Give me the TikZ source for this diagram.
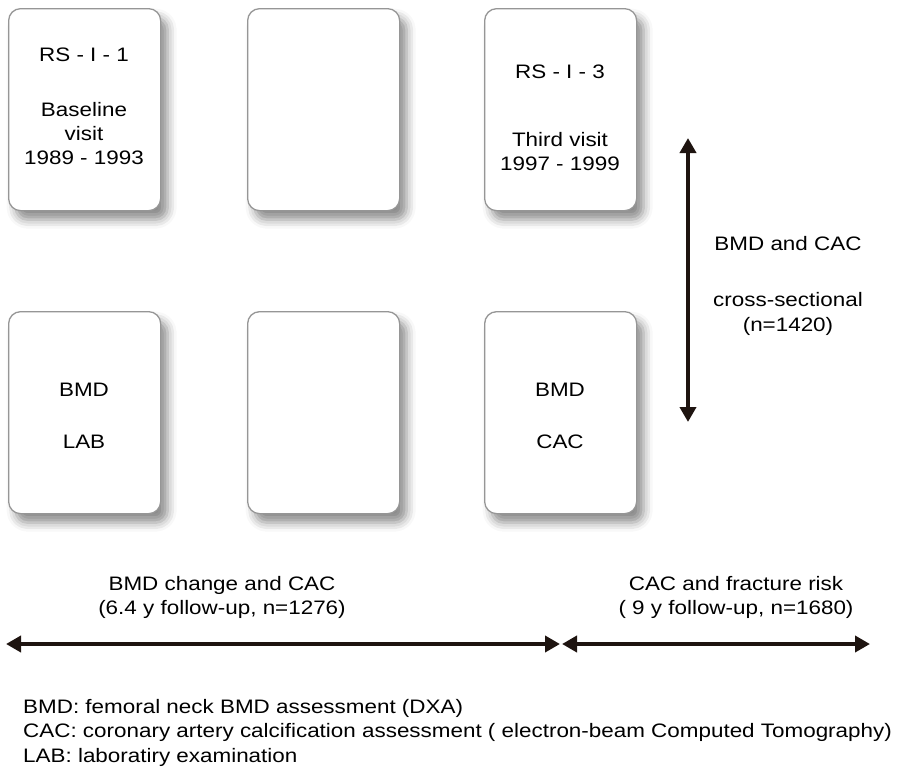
\documentclass[tikz,border=0pt]{standalone}
\usepackage{fontspec}
\setmainfont{Liberation Sans}[FakeStretch=1.15]
\usetikzlibrary{arrows.meta,shadows.blur}
\definecolor{arrowc}{RGB}{30,20,16}
\definecolor{boxedge}{RGB}{150,150,150}
\begin{document}
\begin{tikzpicture}[x=1pt,y=-1pt,
  visitbox/.style={draw=boxedge,line width=1.3pt,fill=white,rounded corners=12pt,
    minimum width=152pt,minimum height=202pt,anchor=north west,inner sep=0pt,
    blur shadow={shadow xshift=7pt,shadow yshift=-9pt,shadow blur radius=9pt,shadow opacity=45}},
  txt/.style={anchor=base,inner sep=0pt,font=\fontsize{19.5}{24}\selectfont},
  ltxt/.style={anchor=base west,inner sep=0pt,font=\fontsize{19.5}{24}\selectfont},
  bigarrow/.style={draw=arrowc,line width=4pt,{Triangle[length=15pt,width=16pt]}-{Triangle[length=15pt,width=16pt]}}]
\useasboundingbox (0,0) rectangle (903,774);
% boxes
\node[visitbox] (b1) at (8,8) {};
\node[visitbox] (b2) at (247,8) {};
\node[visitbox] (b3) at (484,8) {};
\node[visitbox] (b4) at (8,311) {};
\node[visitbox] (b5) at (247,311) {};
\node[visitbox] (b6) at (484,311) {};
% box texts
\node[txt] (t11) at (84,61) {RS - I - 1};
\node[txt] (t12) at (84,116) {Baseline};
\node[txt] (t13) at (84,140) {visit};
\node[txt] (t14) at (84,164) {1989 - 1993};
\node[txt] (t31) at (560,78) {RS - I - 3};
\node[txt] (t32) at (560,146) {Third visit};
\node[txt] (t33) at (560,170) {1997 - 1999};
\node[txt] (t41) at (84,396) {BMD};
\node[txt] (t42) at (84,448) {LAB};
\node[txt] (t61) at (560,396) {BMD};
\node[txt] (t62) at (560,448) {CAC};
% arrows
\coordinate (vt) at (688,138);
\coordinate (vb) at (688,422);
\draw[bigarrow] (vt) -- (vb);
\coordinate (h1) at (6,644);
\coordinate (h2) at (560,644);
\coordinate (h3) at (562,644);
\coordinate (h4) at (870,644);
\draw[bigarrow] (h1) -- (h2);
\draw[bigarrow] (h3) -- (h4);
% labels
\node[txt] (r1) at (788,250) {BMD and CAC};
\node[txt] (r2) at (788,306) {cross-sectional};
\node[txt] (r3) at (788,331) {(n=1420)};
\node[txt] (l1) at (222,590) {BMD change and CAC};
\node[txt] (l2) at (222,614) {(6.4 y follow-up, n=1276)};
\node[txt] (m1) at (736,590) {CAC and fracture risk};
\node[txt] (m2) at (736,614) {( 9 y follow-up, n=1680)};
% legend
\node[ltxt] (g1) at (23,713) {BMD: femoral neck BMD assessment (DXA)};
\node[ltxt] (g2) at (23,737) {CAC: coronary artery calcification assessment ( electron-beam Computed Tomography)};
\node[ltxt] (g3) at (23,762) {LAB: laboratiry examination};
\end{tikzpicture}
\end{document}
